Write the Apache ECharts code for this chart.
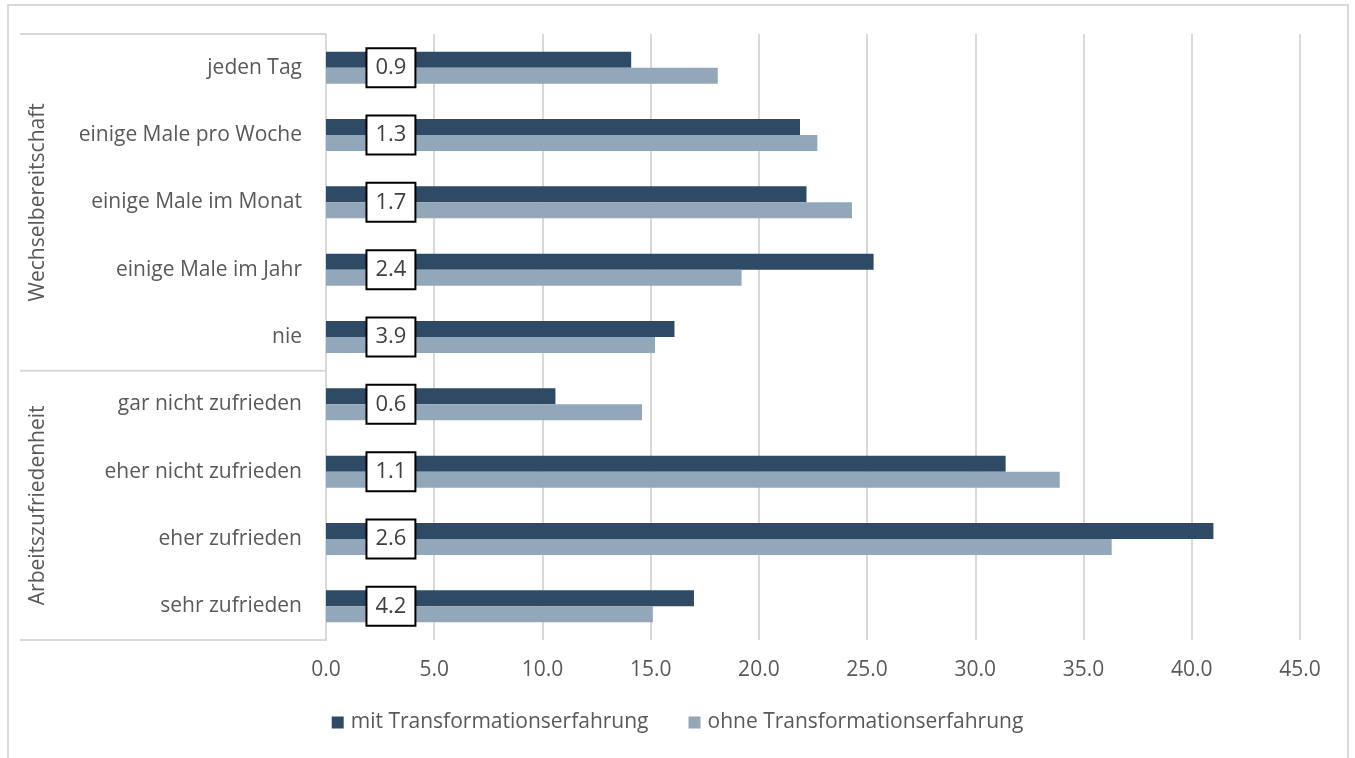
<!DOCTYPE html>
<html><head><meta charset="utf-8">
<script src="https://cdn.jsdelivr.net/npm/echarts@6/dist/echarts.min.js"></script>
<style>html,body{margin:0;padding:0;background:#fff}#c{width:1355px;height:758px}</style>
</head><body><div id="c"></div>
<script>
const categories = ["jeden Tag","einige Male pro Woche","einige Male im Monat","einige Male im Jahr","nie","gar nicht zufrieden","eher nicht zufrieden","eher zufrieden","sehr zufrieden"];
const groups = ["Wechselbereitschaft","Arbeitszufriedenheit"];
const groupSizes = [5, 4];
const mitValues = [14.1, 21.9, 22.2, 25.3, 16.1, 10.6, 31.4, 41.0, 17.0];
const ohneValues = [18.1, 22.7, 24.3, 19.2, 15.2, 14.6, 33.9, 36.3, 15.1];
const boxValues = [0.9, 1.3, 1.7, 2.4, 3.9, 0.6, 1.1, 2.6, 4.2];
const boxPosition = 3;
const seriesNames = ["mit Transformationserfahrung","ohne Transformationserfahrung"];
const xTicks = [0,5,10,15,20,25,30,35,40,45];

const W = 1355, H = 758;
const gridTop = 34, gridBottom = 118, gridLeft = 326, gridRight = 55;
const FONT = "Open Sans";
const TXT = "#595959";
const FS = 21;

const chart = echarts.init(document.getElementById('c'), null, {renderer:'canvas'});

const plotH = H - gridTop - gridBottom;
const total = groupSizes.reduce((a,b)=>a+b,0);
const graphics = [];
graphics.push({type:'rect', shape:{x:8,y:5,width:1340,height:800}, style:{fill:'none', stroke:'#d9d9d9', lineWidth:2}, silent:true});
let acc = 0;
const lineYs = [gridTop];
groups.forEach((g,i)=>{
  const y0 = gridTop + plotH*acc/total;
  acc += groupSizes[i];
  const y1 = gridTop + plotH*acc/total;
  lineYs.push(y1);
  graphics.push({type:'text', x:38, y:(y0+y1)/2, rotation:Math.PI/2,
    style:{text:g, fill:TXT, font:FS+'px "'+FONT+'"', textAlign:'center', textVerticalAlign:'middle'}, silent:true});
});
lineYs.forEach(y=>{
  graphics.push({type:'line', shape:{x1:20,y1:y,x2:gridLeft,y2:y}, style:{stroke:'#d9d9d9', lineWidth:2}, silent:true});
});

chart.setOption({
  animation:false,
  textStyle:{fontFamily:FONT},
  grid:{left:gridLeft, right:gridRight, top:gridTop, bottom:gridBottom, containLabel:false},
  legend:{data:seriesNames, bottom:H-738, left:'center', itemWidth:12, itemHeight:12, itemGap:40,
    icon:'rect', textStyle:{fontSize:FS, color:TXT, fontFamily:FONT, padding:[0,0,0,2]}},
  xAxis:{type:'value', min:0, max:45, interval:5,
    axisLine:{show:false}, axisTick:{show:false},
    axisLabel:{fontSize:FS, color:TXT, margin:20, formatter:v=>v.toFixed(1)},
    splitLine:{show:true, lineStyle:{color:'#d9d9d9', width:2}}},
  yAxis:{type:'category', data:categories, inverse:true,
    axisLine:{show:true, lineStyle:{color:'#d9d9d9', width:2}}, axisTick:{show:false},
    axisLabel:{fontSize:FS, color:TXT, margin:24}},
  series:[
    {name:seriesNames[0], type:'bar', data:mitValues, barWidth:16, barGap:'0%', itemStyle:{color:'#2f4a64'}},
    {name:seriesNames[1], type:'bar', data:ohneValues, barWidth:16, barGap:'0%', itemStyle:{color:'#93a7bb'}},
    {name:'box', type:'scatter', data:boxValues.map((v,i)=>[boxPosition, i]), symbolSize:0, z:10,
      itemStyle:{opacity:1}, emphasis:{disabled:true},
      label:{show:true, position:'inside', formatter:p=>boxValues[p.dataIndex].toFixed(1),
        fontSize:22, color:'#404040', backgroundColor:'#ffffff', borderColor:'#000000', borderWidth:2,
        padding:[8,8,7,8], fontFamily:FONT, opacity:1}}
  ],
  graphic:graphics
});
</script></body></html>
